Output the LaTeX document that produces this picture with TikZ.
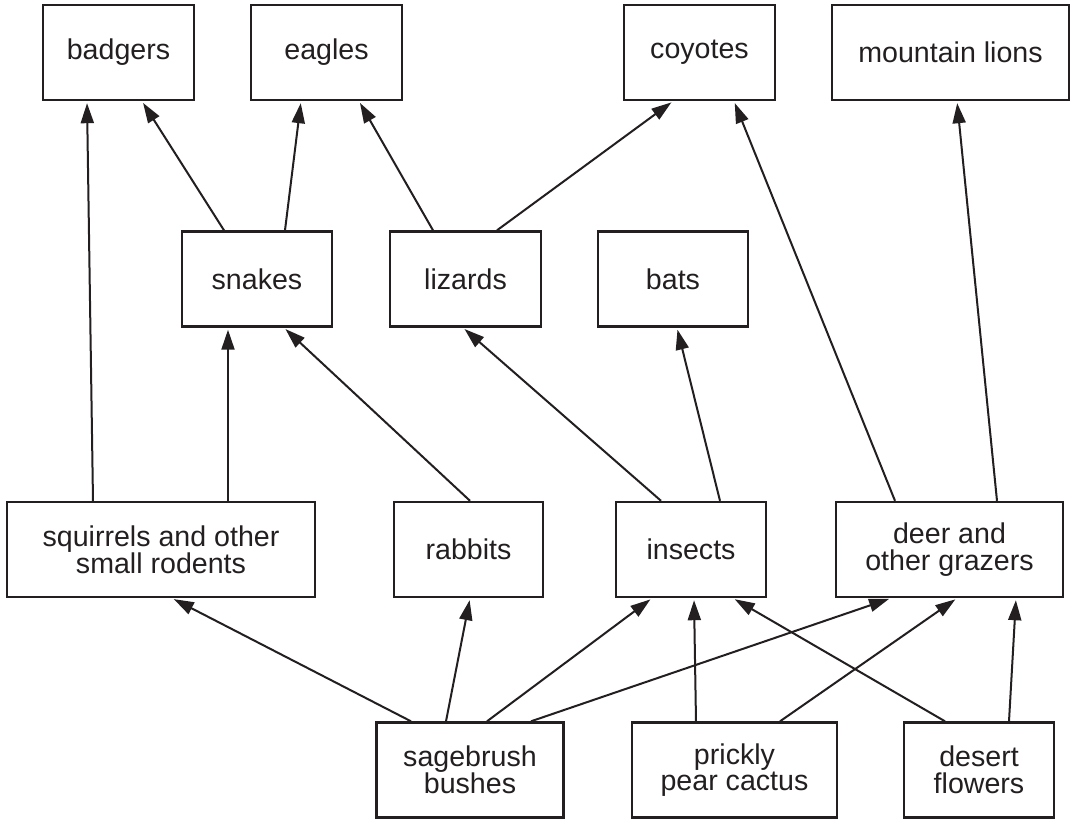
\documentclass[tikz,border=0pt]{standalone}
\usepackage{fontspec}
\setmainfont{Liberation Sans}
\usetikzlibrary{arrows.meta}
\definecolor{ink}{HTML}{231F20}
\begin{document}
\begin{tikzpicture}[x=0.5pt,y=-0.5pt,
    species/.style={draw=ink,line width=1.2pt,inner sep=0pt,align=center,text=ink,
        font=\fontsize{14.3pt}{13.4pt}\selectfont,minimum height=47.5pt},
    eats/.style={draw=ink,line width=1pt,-{Triangle[length=10pt,width=6.5pt]},shorten >=1pt}]
    \useasboundingbox (0,0) rectangle (1072,821);

    \node[species,minimum width=75.5pt]  (badgers)   at (118.5,52.5) {badgers};
    \node[species,minimum width=75.5pt]  (eagles)    at (326.5,52.5) {eagles};
    \node[species,minimum width=75.5pt]  (coyotes)   at (699.5,52.5) {coyotes};
    \node[species,minimum width=118.5pt] (lions)     at (950.5,52.5) {mountain lions};

    \node[species,minimum width=75pt]    (snakes)    at (257,279)    {snakes};
    \node[species,minimum width=75.5pt]  (lizards)   at (465.5,279)  {lizards};
    \node[species,minimum width=75pt]    (bats)      at (673,279)    {bats};

    \node[species,minimum width=154pt]   (squirrels) at (161,549.5)  {squirrels and other\\small rodents};
    \node[species,minimum width=74.5pt]  (rabbits)   at (468.5,549.5) {rabbits};
    \node[species,minimum width=75pt]    (insects)   at (691,549.5)  {insects};
    \node[species,minimum width=113.5pt] (deer)      at (949.5,549.5) {deer and\\other grazers};

    \node[species,minimum width=93.5pt]  (sagebrush) at (470,770)    {sagebrush\\bushes};
    \node[species,minimum width=102.5pt] (cactus)    at (734.5,770)  {prickly\\pear cactus};
    \node[species,minimum width=75pt]    (flowers)   at (979,770)    {desert\\flowers};

    \draw[eats] ([xshift=-34pt]squirrels.north) -- ([xshift=-15.75pt]badgers.south);
    \draw[eats] ([xshift=-16.5pt]snakes.north) -- ([xshift=11.75pt]badgers.south);
    \draw[eats] ([xshift=14pt]snakes.north) -- ([xshift=-12.75pt]eagles.south);
    \draw[eats] ([xshift=-16.25pt]lizards.north) -- ([xshift=16.25pt]eagles.south);
    \draw[eats] ([xshift=15.75pt]lizards.north) -- ([xshift=-13.25pt]coyotes.south);
    \draw[eats] ([xshift=-27.25pt]deer.north) -- ([xshift=17.25pt]coyotes.south);
    \draw[eats] ([xshift=23.75pt]deer.north) -- ([xshift=3.25pt]lions.south);

    \draw[eats] ([xshift=33.5pt]squirrels.north) -- ([xshift=-14.5pt]snakes.south);
    \draw[eats] ([xshift=0.75pt]rabbits.north) -- ([xshift=13.5pt]snakes.south);
    \draw[eats] ([xshift=-15pt]insects.north) -- ([xshift=-1.25pt]lizards.south);
    \draw[eats] ([xshift=14.5pt]insects.north) -- ([xshift=2pt]bats.south);

    \draw[eats] ([xshift=-29.5pt]sagebrush.north) -- ([xshift=5.5pt]squirrels.south);
    \draw[eats] ([xshift=-12pt]sagebrush.north) -- ([xshift=0.75pt]rabbits.south);
    \draw[eats] ([xshift=8.5pt]sagebrush.north) -- ([xshift=-19.5pt]insects.south);
    \draw[eats] ([xshift=30.5pt]sagebrush.north) -- ([xshift=-29.25pt]deer.south);
    \draw[eats] ([xshift=-19.25pt]cactus.north) -- ([xshift=1.5pt]insects.south);
    \draw[eats] ([xshift=22.75pt]cactus.north) -- ([xshift=3.75pt]deer.south);
    \draw[eats] ([xshift=-17pt]flowers.north) -- ([xshift=21pt]insects.south);
    \draw[eats] ([xshift=15pt]flowers.north) -- ([xshift=33.25pt]deer.south);
\end{tikzpicture}
\end{document}
